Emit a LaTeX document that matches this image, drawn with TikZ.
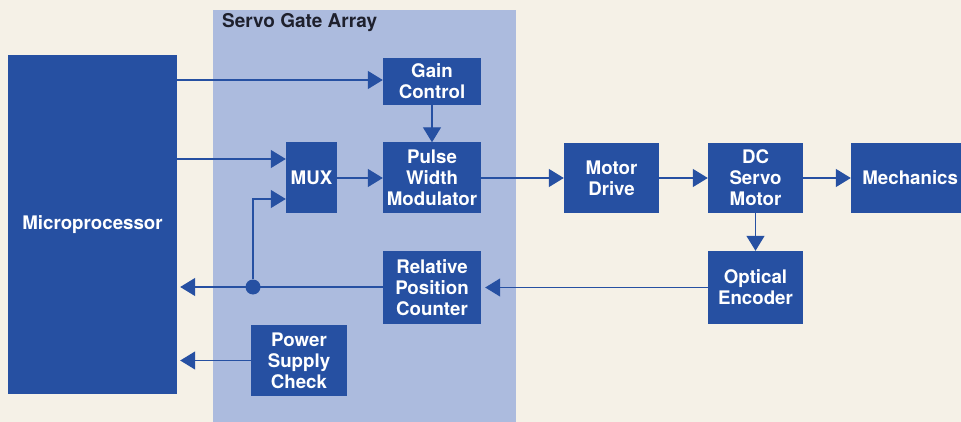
\documentclass[tikz,border=0pt]{standalone}
\usepackage{fontspec}
\setmainfont{TeX Gyre Heros}
\usetikzlibrary{arrows.meta,positioning,calc}
\definecolor{cPaper}{RGB}{245,241,231}
\definecolor{cGate} {RGB}{172,187,222}
\definecolor{cBlock}{RGB}{38,80,162}
\definecolor{cInk}  {RGB}{30,32,45}
\tikzset{
  >={Triangle[length=15pt,width=18pt]},
  blk/.style={draw=none,fill=cBlock,text=white,align=center,inner sep=0pt,
              font=\fontsize{18.7}{21}\selectfont\bfseries},
  gatebg/.style={draw=none,fill=cGate,inner sep=0pt},
  sig/.style={->,cBlock,line width=1.3pt},
  tap/.style={circle,fill=cBlock,minimum size=15pt,inner sep=0pt},
}
\begin{document}
\begin{tikzpicture}[x=1pt,y=-1pt]
  \fill[cPaper] (0,0) rectangle (961,422);
  \useasboundingbox (0,0) rectangle (961,422);
  % gate array area
  \node[gatebg,minimum width=303pt,minimum height=412pt] (gate) at (364.5,216){};
  \node[anchor=base west,inner sep=0pt,text=cInk,font=\fontsize{19}{21}\selectfont\bfseries]
    (gatelbl) at (222,28){Servo Gate Array};
  % blocks
  \node[blk,minimum width=169pt,minimum height=339pt] (micro) at (92.5,224.5){Microprocessor};
  \node[blk,minimum width=98pt,minimum height=47pt]  (gain)  at (432,81.5){Gain\\Control};
  \node[blk,minimum width=51pt,minimum height=71pt]  (mux)   at (311.5,178){MUX};
  \node[blk,minimum width=98pt,minimum height=71pt]  (pwm)   at (432,178){Pulse\\Width\\Modulator};
  \node[blk,minimum width=98pt,minimum height=73pt]  (rpc)   at (432,287.5){Relative\\Position\\Counter};
  \node[blk,minimum width=96pt,minimum height=71pt]  (psc)   at (299,360.5){Power\\Supply\\Check};
  \node[blk,minimum width=95pt,minimum height=70pt]  (drive) at (611.5,178){Motor\\Drive};
  \node[blk,minimum width=95pt,minimum height=70pt]  (dcm)   at (755.5,178){DC\\Servo\\Motor};
  \node[blk,minimum width=110pt,minimum height=70pt,text width=104pt,align=right] (mech) at (906,178){Mechanics};
  \node[blk,minimum width=95pt,minimum height=73pt]  (enc)   at (755.5,287.5){Optical\\Encoder};
  % forward path
  \draw[sig] (micro.east |- 0,80) -- (gain.west |- 0,80);
  \draw[sig] ([yshift=19pt]micro.east |- mux.west) -- ([yshift=19pt]mux.west);
  \draw[sig] (gain) -- (pwm);
  \draw[sig] (mux) -- (pwm);
  \draw[sig] (pwm) -- (drive);
  \draw[sig] (drive) -- (dcm);
  \draw[sig] (dcm) -- (mech);
  \draw[sig] (dcm) -- (enc);
  % feedback
  \draw[sig,shorten >=4pt] (enc) -- (rpc);
  \node[tap] (dot) at (253,287){};
  \draw[sig,shorten >=3pt] (rpc.west |- dot) -- (micro.east |- dot);
  \draw[sig] (dot) |- ([yshift=-21pt]mux.west);
  \draw[sig,shorten >=3pt] (psc.west) -- (micro.east |- psc.west);
\end{tikzpicture}
\end{document}
